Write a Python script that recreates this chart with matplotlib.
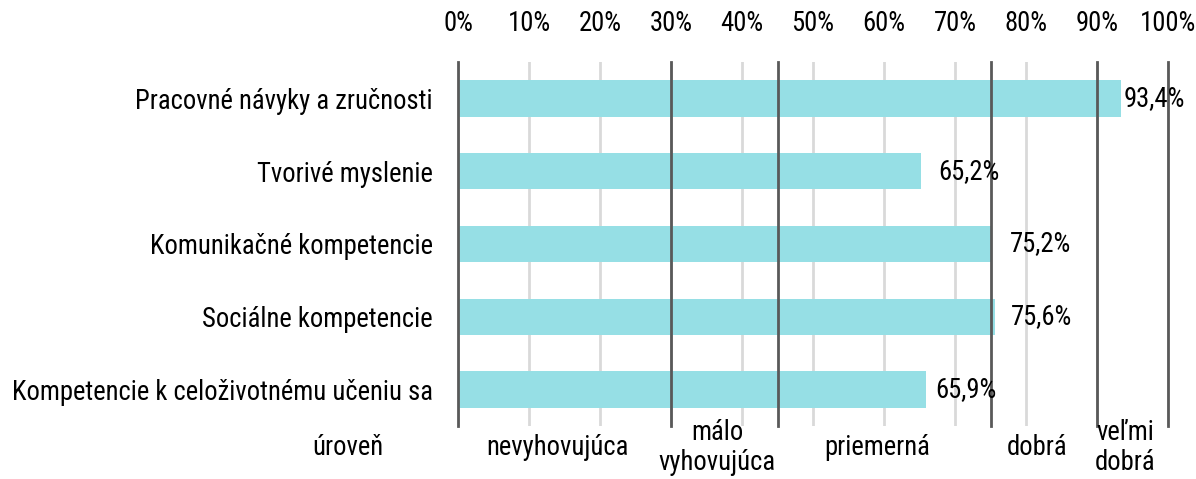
import matplotlib
matplotlib.use("Agg")
import matplotlib.pyplot as plt
from matplotlib.ticker import MultipleLocator, FuncFormatter

categories = [
    "Pracovné návyky a zručnosti",
    "Tvorivé myslenie",
    "Komunikačné kompetencie",
    "Sociálne kompetencie",
    "Kompetencie k celoživotnému učeniu sa",
]
values = [93.4, 65.2, 75.2, 75.6, 65.9]
value_labels = ["93,4%", "65,2%", "75,2%", "75,6%", "65,9%"]
level_bounds = [0, 30, 45, 75, 90, 100]
level_names = ["nevyhovujúca", "málo\nvyhovujúca", "priemerná", "dobrá", "veľmi\ndobrá"]
level_title = "úroveň"

plt.rcParams['font.family'] = ['Roboto Condensed', 'DejaVu Sans']
FS = 19.2
label_offsets = [2, 17, 18, 16, 9]      # px right of bar end

fig = plt.figure(figsize=(11.96, 4.79), dpi=100)
ax = fig.add_axes([458/1196, 1 - 426/479, (1168 - 458)/1196, (426 - 62)/479])

ypos = list(range(len(categories)))
ax.barh(ypos, values, height=0.5, color="#96dfe5", zorder=2)

ax.set_xlim(0, 100)
ax.set_ylim(len(categories) - 0.5, -0.5)
ax.xaxis.set_major_locator(MultipleLocator(10))
ax.xaxis.set_major_formatter(FuncFormatter(lambda v, p: f"{int(round(v))}%"))
ax.xaxis.tick_top()
ax.tick_params(axis='x', length=0, pad=18, labelsize=FS)
ax.tick_params(axis='y', length=0, pad=18, labelsize=FS)
ax.set_yticks(ypos)
ax.set_yticklabels(categories)
ax.grid(axis='x', color="#d9d9d9", linewidth=2, zorder=0)
ax.grid(axis='y', visible=False)
for s in ax.spines.values():
    s.set_visible(False)

for b in level_bounds:
    ax.axvline(b, color="#595959", linewidth=2, zorder=3, clip_on=False)

for i, (v, lab, off) in enumerate(zip(values, value_labels, label_offsets)):
    ax.annotate(lab, (v, i), xytext=(off * 0.72, 0), textcoords='offset points',
                ha='left', va='center', fontsize=FS, zorder=4)

trans = ax.get_xaxis_transform()
for lo, hi, name in zip(level_bounds[:-1], level_bounds[1:], level_names):
    ax.text((lo + hi) / 2 - 1, -0.06, name, transform=trans, ha='center', va='center',
            fontsize=FS, linespacing=1.15, clip_on=False)
ax.text(-15.5, -0.06, level_title, transform=trans, ha='center', va='center', fontsize=FS, clip_on=False)

fig.savefig("out.png", dpi=100)
